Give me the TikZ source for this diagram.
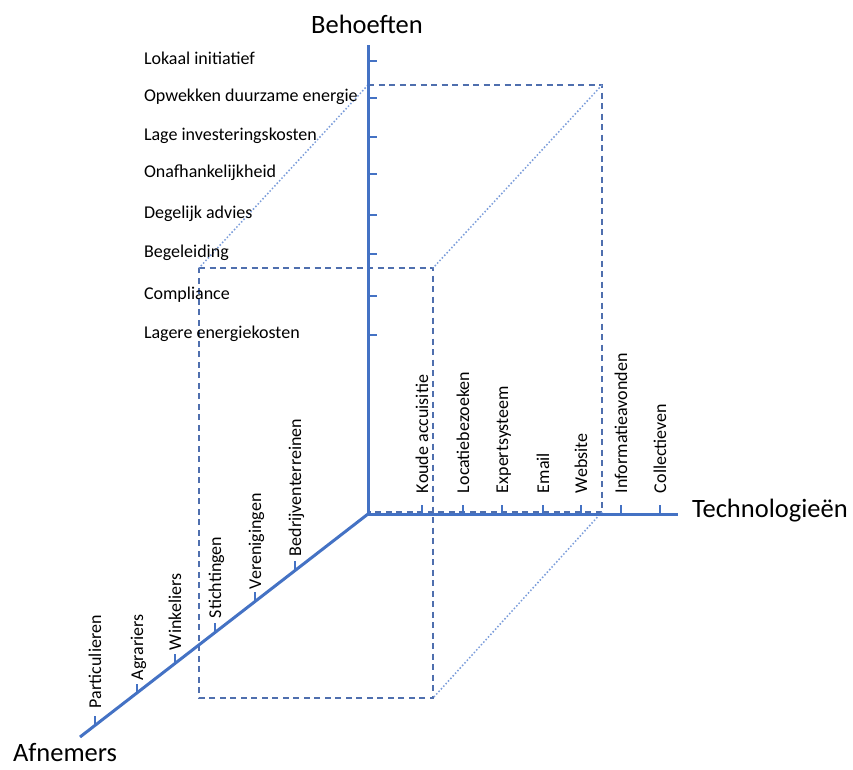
\documentclass[tikz,border=0pt]{standalone}
\usepackage{fontspec}
\setmainfont{Carlito}
\definecolor{axblue}{HTML}{4472C4}
\definecolor{dashblue}{HTML}{4F6FAE}
\definecolor{dotblue}{HTML}{7A9CDA}
\begin{document}
\begin{tikzpicture}[x=1pt,y=-1pt,
 axis/.style={axblue,line width=3pt},
 tickmark/.style={axblue,line width=2.6pt},
 boxline/.style={dashblue,line width=1.3pt,dash pattern=on 6pt off 4.5pt},
 depthline/.style={dotblue,line width=1.5pt,dash pattern=on 1.5pt off 2pt},
 lbl/.style={inner sep=0pt,outer sep=0pt,font=\fontsize{18}{20}\selectfont,anchor=base west},
 vlbl/.style={lbl,rotate=90},
 title/.style={inner sep=0pt,outer sep=0pt,font=\fontsize{26.5}{30}\selectfont}]
\useasboundingbox (0,0) rectangle (853,769);
% box corners
\coordinate (b1) at (368,85);
\coordinate (b2) at (602,85);
\coordinate (b3) at (602,512);
\coordinate (b4) at (368,512);
\coordinate (f1) at (199,268);
\coordinate (f2) at (433,268);
\coordinate (f3) at (433,698);
\coordinate (f4) at (199,698);
\draw[boxline] (b1) -- (b2) -- (b3) -- (b4);
\draw[boxline] (f1) -- (f2) -- (f3) -- (f4) -- cycle;
\draw[depthline] (b1) -- (f1);
\draw[depthline] (b2) -- (f2);
\draw[depthline] (b3) -- (f3);
% axes
\coordinate (O) at (368,514);
\coordinate (T) at (368,45);
\coordinate (R) at (678,514);
\coordinate (A) at (80,737);
\draw[axis] (T) -- (O) -- (R);
\draw[axis] (O) -- (A);
% vertical ticks
\foreach \y in {61,98,137,174,215,254,296,335}
  \draw[tickmark] (368,\y) -- (377,\y);
% horizontal ticks
\foreach \x in {422,463,502,543,581,621,660}
  \draw[tickmark] (\x,514) -- (\x,505);
% diagonal ticks
\foreach \x/\y in {95/725,137/693,175/663,215/632,255/601,295/570}
  \draw[tickmark] (\x,\y) -- (\x,\y-9);
% vertical axis labels
\node[lbl] (n1) at (144,64) {Lokaal initiatief};
\node[lbl] (n2) at (144,101) {Opwekken duurzame energie};
\node[lbl] (n3) at (144,140) {Lage investeringskosten};
\node[lbl] (n4) at (144,177) {Onafhankelijkheid};
\node[lbl] (n5) at (144,218) {Degelijk advies};
\node[lbl] (n6) at (144,257) {Begeleiding};
\node[lbl] (n7) at (144,299) {Compliance};
\node[lbl] (n8) at (144,338) {Lagere energiekosten};
% technology labels
\node[vlbl] (t1) at (428,493) {Koude accuisitie};
\node[vlbl] (t2) at (469,493) {Locatiebezoeken};
\node[vlbl] (t3) at (508,493) {Expertsysteem};
\node[vlbl] (t4) at (549,493) {Email};
\node[vlbl] (t5) at (587,493) {Website};
\node[vlbl] (t6) at (627,493) {Informatieavonden};
\node[vlbl] (t7) at (666,493) {Collectieven};
% customer labels
\node[vlbl] (a1) at (101,708) {Particulieren};
\node[vlbl] (a2) at (143,680) {Agrariers};
\node[vlbl] (a3) at (181,650) {Winkeliers};
\node[vlbl] (a4) at (221,618) {Stichtingen};
\node[vlbl] (a5) at (261,589) {Verenigingen};
\node[vlbl] (a6) at (301,556) {Bedrijventerreinen};
% titles
\node[title,anchor=base] (beh) at (367,33) {Behoeften};
\node[title,anchor=base west] (tech) at (692,517) {Technologieën};
\node[title,anchor=base west] (afn) at (13,761) {Afnemers};
\end{tikzpicture}
\end{document}
